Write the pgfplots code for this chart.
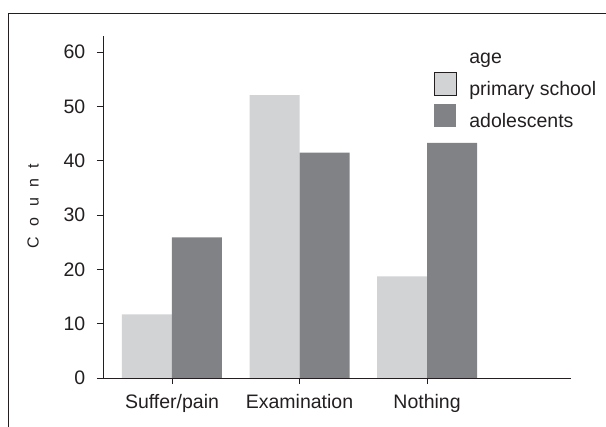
\documentclass[border=0pt]{standalone}
\usepackage{pgfplots}
\pgfplotsset{compat=1.18}
\usepackage{fontspec}
\setmainfont{Liberation Sans}
\definecolor{lightbar}{RGB}{209,211,212}
\definecolor{darkbar}{RGB}{128,130,133}
\definecolor{txt}{RGB}{35,31,32}
\begin{document}
\fontsize{19.5bp}{23bp}\selectfont
\begin{tikzpicture}
\useasboundingbox (0,0) rectangle (606bp,427bp);
\draw[txt, line width=0.8bp] (8bp,0) -- (8bp,414bp) -- (606bp,414bp);
\begin{axis}[
  at={(103bp,49bp)}, anchor=south west,
  scale only axis, width=468bp, height=342bp,
  xmin=-0.541, xmax=3.129, ymin=0, ymax=63,
  axis lines=left, axis line style={-, txt, line width=0.8bp},
  xtick={0,1,2}, xticklabels={Suffer/pain,Examination,Nothing},
  ytick={0,10,...,60},
  tick align=outside, tick style={txt, line width=0.8bp}, major tick length=6bp,
  ticklabel style={font=\fontsize{19.5bp}{23bp}\selectfont, text=txt},
  yticklabel style={xshift=-5bp},
  xticklabel style={yshift=-4bp},
  /pgf/number format/assume math mode=true,
  ybar=0pt, bar width=50bp,
  legend style={draw=none, fill=none, at={(0.707,0.95)}, anchor=north west,
    font=\fontsize{19.5bp}{23bp}\selectfont, text=txt, inner sep=0pt,
    row sep=5bp, column sep=0bp,
    nodes={inner xsep=0bp, inner ysep=0pt}},
  legend cell align=left,
]
\addlegendimage{legend image code/.code={}}
\addlegendentry{age}
\addplot[fill=lightbar, draw=none,
  legend image code/.code={\draw[fill=lightbar, draw=txt, line width=0.6bp] (0bp,-5bp) rectangle (22bp,18bp); \path (35bp,0);}]
  coordinates {(0,11.7) (1,52.1) (2,18.7)};
\addlegendentry{primary school}
\addplot[fill=darkbar, draw=none,
  legend image code/.code={\fill[darkbar] (0bp,-5bp) rectangle (22bp,18bp); \path (35bp,0);}]
  coordinates {(0,25.9) (1,41.5) (2,43.3)};
\addlegendentry{adolescents}
\end{axis}
\node[rotate=90, txt, font=\fontsize{16bp}{19bp}\selectfont] at (33bp,221bp) {C\hspace{10.5bp}o\hspace{10.5bp}u\hspace{10.5bp}n\hspace{10.5bp}t};
\end{tikzpicture}
\end{document}
